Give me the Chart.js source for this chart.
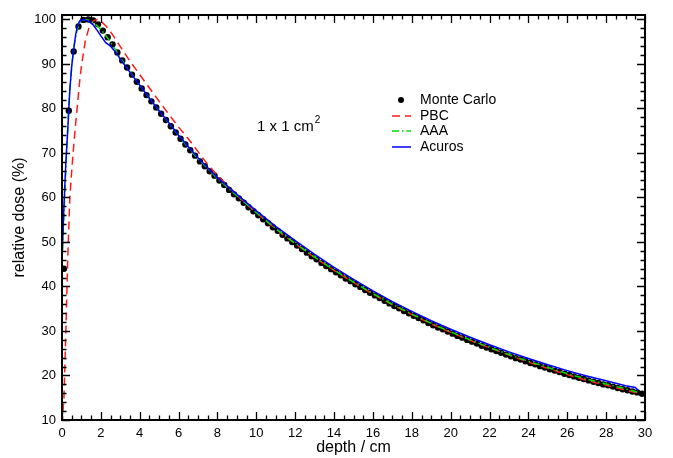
<!DOCTYPE html>
<html>
<head>
<meta charset="utf-8">
<script src="https://cdn.jsdelivr.net/npm/chart.js@4/dist/chart.umd.min.js"></script>
<style>
  html, body { margin: 0; padding: 0; background: #fff; }
  #wrap { width: 673px; height: 458px; }
</style>
</head>
<body>
<div id="wrap"><canvas id="c" width="673" height="458"></canvas></div>
<script>
// Depth dose curves, 1 x 1 cm2 field

// Monte Carlo reference (points)
const mcDepth = [
  0.1, 0.35, 0.6, 0.85, 1.1, 1.35, 1.6, 1.85, 2.1, 2.35, 2.6, 2.85, 3.1, 3.35, 3.6, 3.85,
  4.1, 4.35, 4.6, 4.85, 5.1, 5.35, 5.6, 5.85, 6.1, 6.35, 6.6, 6.85, 7.1, 7.35, 7.6, 7.85,
  8.1, 8.35, 8.6, 8.85, 9.1, 9.35, 9.6, 9.85, 10.1, 10.35, 10.6, 10.85, 11.1, 11.35, 11.6, 11.85,
  12.1, 12.35, 12.6, 12.85, 13.1, 13.35, 13.6, 13.85, 14.1, 14.35, 14.6, 14.85, 15.1, 15.35, 15.6, 15.85,
  16.1, 16.35, 16.6, 16.85, 17.1, 17.35, 17.6, 17.85, 18.1, 18.35, 18.6, 18.85, 19.1, 19.35, 19.6, 19.85,
  20.1, 20.35, 20.6, 20.85, 21.1, 21.35, 21.6, 21.85, 22.1, 22.35, 22.6, 22.85, 23.1, 23.35, 23.6, 23.85,
  24.1, 24.35, 24.6, 24.85, 25.1, 25.35, 25.6, 25.85, 26.1, 26.35, 26.6, 26.85, 27.1, 27.35, 27.6, 27.85,
  28.1, 28.35, 28.6, 28.85, 29.1, 29.35, 29.6, 29.85
];
const mcDose = [
  44.0, 79.5, 92.8, 98.4, 99.9, 100.0, 99.8, 98.9, 97.5, 96.0, 94.4, 92.6, 90.8, 89.2, 87.6, 86.0,
  84.5, 83.0, 81.6, 80.2, 78.8, 77.4, 76.0, 74.6, 73.2, 71.9, 70.6, 69.4, 68.1, 67.0, 65.9, 64.9,
  63.8, 62.8, 61.7, 60.7, 59.8, 58.8, 57.8, 56.9, 56.0, 55.1, 54.2, 53.3, 52.5, 51.6, 50.8, 50.0,
  49.2, 48.4, 47.6, 46.8, 46.1, 45.3, 44.6, 43.9, 43.2, 42.5, 41.8, 41.2, 40.5, 39.9, 39.2, 38.6,
  38.0, 37.4, 36.8, 36.2, 35.6, 35.1, 34.5, 34.0, 33.4, 32.9, 32.4, 31.8, 31.3, 30.8, 30.4, 29.9,
  29.4, 28.9, 28.5, 28.0, 27.6, 27.2, 26.7, 26.3, 25.9, 25.5, 25.1, 24.7, 24.3, 23.9, 23.6, 23.2,
  22.8, 22.5, 22.1, 21.8, 21.4, 21.1, 20.8, 20.4, 20.1, 19.8, 19.5, 19.2, 18.9, 18.6, 18.3, 18.0,
  17.8, 17.5, 17.2, 16.9, 16.7, 16.4, 16.2, 15.9
];

// Calculated curves (lines), shared depth grid
const lineDepth = [
  0, 0.1, 0.2, 0.3, 0.4, 0.5, 0.6, 0.7, 0.8, 0.9, 1.0, 1.2, 1.4, 1.6, 1.8, 2.0,
  2.25, 2.5, 2.75, 3.0, 3.5, 4.0, 4.5, 5.0, 5.5, 6.0, 6.5, 7.0, 7.5, 8.0,
  9, 10, 11, 12, 13, 14, 15, 16, 17, 18, 19, 20, 21, 22, 23, 24, 25, 26, 27, 28, 29, 29.5, 29.65
];
const pbcDose = [
  9, 15, 30, 47, 59.5, 66, 71.5, 76.5, 81, 85.8, 89.5, 95.2, 98.3, 99.7, 100, 99.6,
  98.6, 97.2, 95.6, 93.9, 90.6, 87.6, 84.6, 81.6, 78.7, 75.8, 73.2, 70.3, 67.4, 65.0,
  60.5, 56.6, 52.9, 49.6, 46.5, 43.6, 40.9, 38.3, 35.9, 33.7, 31.6, 29.7, 27.9, 26.2, 24.6, 23.0, 21.6, 20.2, 18.9, 17.8, 16.7, 16.2, 15.9
];
const aaaDose = [
  45, 56, 66.5, 76, 84, 89.5, 93.3, 96.0, 97.9, 99.1, 99.8, 100, 99.8, 99.3, 98.6, 97.8,
  96.4, 94.9, 93.2, 91.4, 88.2, 85.2, 82.3, 79.5, 76.7, 73.9, 71.2, 68.7, 66.5, 64.3,
  60.4, 56.6, 53.0, 49.7, 46.6, 43.7, 41.0, 38.4, 36.0, 33.8, 31.7, 29.8, 28.0, 26.3, 24.7, 23.2, 21.8, 20.4, 19.2, 18.1, 17.0, 16.4, 16.1
];
const acurosDose = [
  46, 58, 68, 75.5, 84, 89.5, 93.3, 96.5, 98.6, 99.6, 100, 99.9, 99.5, 98.8, 97.6, 96.3,
  94.8, 94.0, 92.7, 91.1, 88.1, 85.2, 82.3, 79.5, 76.8, 74.0, 71.4, 68.9, 66.7, 64.5,
  60.7, 57.0, 53.5, 50.3, 47.2, 44.3, 41.6, 39.0, 36.6, 34.4, 32.3, 30.4, 28.6, 26.9, 25.3, 23.8, 22.4, 21.1, 19.9, 18.8, 17.7, 17.3, 16.7
];

// Axis tick labels
const xTickValues = [0, 2, 4, 6, 8, 10, 12, 14, 16, 18, 20, 22, 24, 26, 28, 30];
const yTickValues = [10, 20, 30, 40, 50, 60, 70, 80, 90, 100];

const seriesNames = ['Monte Carlo', 'PBC', 'AAA', 'Acuros'];
const fieldLabel = '1 x 1 cm';
const fieldLabelSup = '2';

const FONT = '"Liberation Sans", Arial, Helvetica, sans-serif';
Chart.defaults.font.family = FONT;
Chart.defaults.color = '#000';

const pts = (xs, ys) => xs.map((x, i) => ({ x: x, y: ys[i] }));

// Boxed frame with inward major/minor ticks on all four sides
const frameTicks = {
  id: 'frameTicks',
  afterDatasetsDraw(chart) {
    const { ctx, chartArea: a, scales } = chart;
    const x = scales.x, y = scales.y;
    ctx.save();
    ctx.strokeStyle = '#000';
    ctx.lineWidth = 1.3;
    ctx.beginPath();
    for (let i = 0; i <= 60; i++) {           // every 0.5 cm
      const px = Math.round(x.getPixelForValue(i * 0.5)) + 0.5;
      const len = (i % 4 === 0) ? 8 : 4.5;
      ctx.moveTo(px, a.bottom); ctx.lineTo(px, a.bottom - len);
      ctx.moveTo(px, a.top); ctx.lineTo(px, a.top + len);
    }
    for (let i = 5; i <= 50; i++) {           // every 2 %
      const py = Math.round(y.getPixelForValue(i * 2)) + 0.5;
      const len = (i % 5 === 0) ? 8 : 4.5;
      ctx.moveTo(a.left, py); ctx.lineTo(a.left + len, py);
      ctx.moveTo(a.right, py); ctx.lineTo(a.right - len, py);
    }
    ctx.stroke();
    ctx.lineWidth = 2;
    ctx.strokeRect(a.left, a.top, a.right - a.left, a.bottom - a.top);
    ctx.restore();
  }
};

// Legend block and field-size annotation inside the plot
const insetText = {
  id: 'insetText',
  afterDraw(chart) {
    const { ctx } = chart;
    const ds = chart.data.datasets;
    ctx.save();
    const rowY = [100, 116, 131, 147];
    ctx.font = '14px ' + FONT;
    ctx.textBaseline = 'middle';
    ctx.textAlign = 'left';
    ds.forEach((d, i) => {
      const yy = rowY[i];
      if (d.showLine) {
        ctx.strokeStyle = d.borderColor;
        ctx.lineWidth = d.borderWidth;
        ctx.setLineDash(d.borderDash || []);
        ctx.beginPath();
        ctx.moveTo(392, yy); ctx.lineTo(411, yy);
        ctx.stroke();
        ctx.setLineDash([]);
      } else {
        ctx.fillStyle = d.backgroundColor;
        ctx.beginPath();
        ctx.arc(401, yy, 3, 0, Math.PI * 2);
        ctx.fill();
      }
      ctx.fillStyle = '#000';
      ctx.fillText(d.label, 420, yy);
    });
    ctx.textBaseline = 'alphabetic';
    ctx.font = '15px ' + FONT;
    ctx.fillText(fieldLabel, 257, 131);
    const w = ctx.measureText(fieldLabel).width;
    ctx.font = '10px ' + FONT;
    ctx.fillText(fieldLabelSup, 257 + w + 1, 123);
    ctx.restore();
  }
};

new Chart(document.getElementById('c'), {
  type: 'scatter',
  data: {
    datasets: [
      {
        label: seriesNames[0], data: pts(mcDepth, mcDose), order: 4,
        showLine: false, pointRadius: 3.2, pointHoverRadius: 3.2,
        backgroundColor: '#000', borderColor: '#000', borderWidth: 0
      },
      {
        label: seriesNames[1], data: pts(lineDepth, pbcDose), order: 3,
        showLine: true, pointRadius: 0, borderColor: '#ff1a1a', borderWidth: 1.5,
        borderDash: [8, 5], tension: 0, fill: false
      },
      {
        label: seriesNames[2], data: pts(lineDepth, aaaDose), order: 2,
        showLine: true, pointRadius: 0, borderColor: '#00dd00', borderWidth: 1.5,
        borderDash: [7, 3, 1.5, 3], tension: 0, fill: false
      },
      {
        label: seriesNames[3], data: pts(lineDepth, acurosDose), order: 1,
        showLine: true, pointRadius: 0, borderColor: '#0000ff', borderWidth: 1.5,
        tension: 0, fill: false
      }
    ]
  },
  options: {
    responsive: false,
    animation: false,
    devicePixelRatio: 1,
    layout: { padding: { left: 0, right: 28, top: 15, bottom: 0 } },
    plugins: { legend: { display: false }, tooltip: { enabled: false } },
    scales: {
      x: {
        type: 'linear', min: 0, max: 30,
        grid: { display: false, drawTicks: false },
        border: { display: false },
        afterBuildTicks: (s) => { s.ticks = xTickValues.map(v => ({ value: v })); },
        afterFit: (s) => { s.height = 38; },
        ticks: { padding: 6, font: { size: 13 }, color: '#000', maxRotation: 0, autoSkip: false },
        title: { display: true, text: 'depth / cm', font: { size: 16 }, color: '#000', padding: { top: 0, bottom: 1 } }
      },
      y: {
        type: 'linear', min: 10, max: 101,
        grid: { display: false, drawTicks: false },
        border: { display: false },
        afterBuildTicks: (s) => { s.ticks = yTickValues.map(v => ({ value: v })); },
        afterFit: (s) => { s.width = 62; },
        ticks: { padding: 6, font: { size: 13 }, color: '#000', autoSkip: false },
        title: { display: true, text: 'relative dose (%)', font: { size: 16 }, color: '#000', padding: { top: 10, bottom: 0 } }
      }
    }
  },
  plugins: [frameTicks, insetText]
});
</script>
</body>
</html>
